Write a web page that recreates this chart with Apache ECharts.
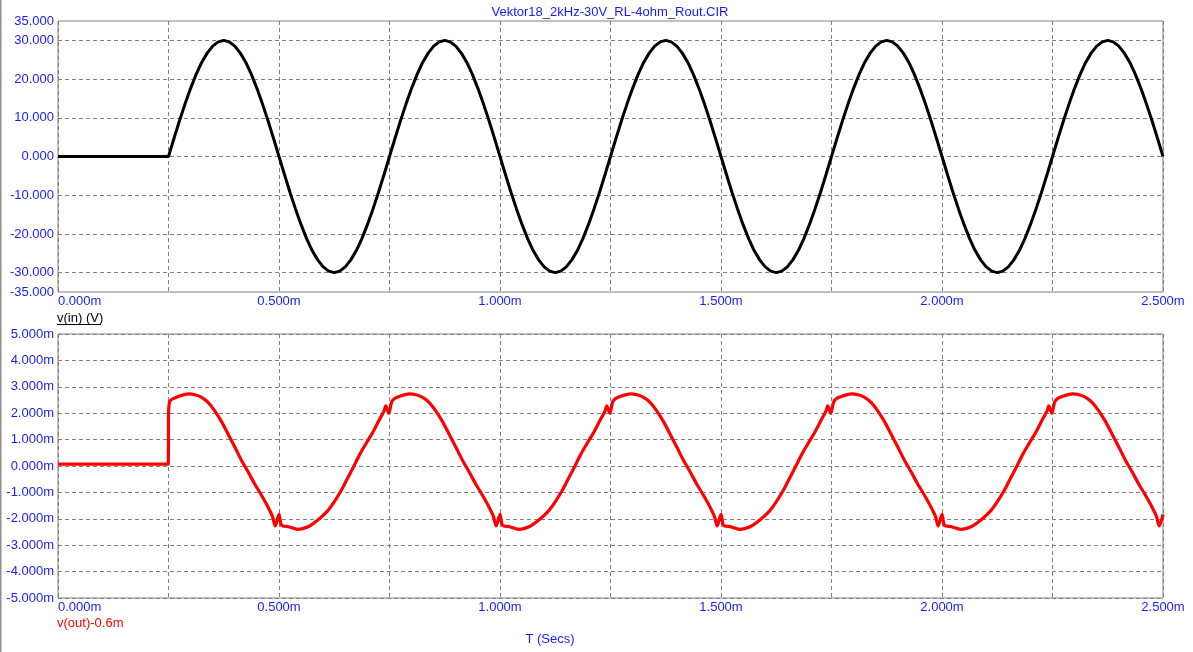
<!DOCTYPE html>
<html>
<head>
<meta charset="utf-8">
<script src="https://cdn.jsdelivr.net/npm/echarts@6/dist/echarts.min.js"></script>
<style>
html,body{margin:0;padding:0;background:#fff;}
#chart{width:1193px;height:652px;}
</style>
</head>
<body>
<div id="chart"></div>
<script>
// ---- Data (time in ms, v(in) in V, v(out) in mV) ----
const titleText = 'Vektor18_2kHz-30V_RL-4ohm_Rout.CIR';
const inStep = 0.0125; // sample spacing of v(in), ms
const vinValues = [
  0,0,0,0,0,0,0,0,0,0,0,0,0,0,0,0,0,0,0,0,
  0,4.7,9.3,13.6,17.6,21.2,24.3,26.7,28.5,29.6,30,29.6,28.5,26.7,24.3,21.2,17.6,13.6,9.3,4.7,
  0,-4.7,-9.3,-13.6,-17.6,-21.2,-24.3,-26.7,-28.5,-29.6,-30,-29.6,-28.5,-26.7,-24.3,-21.2,-17.6,-13.6,-9.3,-4.7,
  0,4.7,9.3,13.6,17.6,21.2,24.3,26.7,28.5,29.6,30,29.6,28.5,26.7,24.3,21.2,17.6,13.6,9.3,4.7,
  0,-4.7,-9.3,-13.6,-17.6,-21.2,-24.3,-26.7,-28.5,-29.6,-30,-29.6,-28.5,-26.7,-24.3,-21.2,-17.6,-13.6,-9.3,-4.7,
  0,4.7,9.3,13.6,17.6,21.2,24.3,26.7,28.5,29.6,30,29.6,28.5,26.7,24.3,21.2,17.6,13.6,9.3,4.7,
  0,-4.7,-9.3,-13.6,-17.6,-21.2,-24.3,-26.7,-28.5,-29.6,-30,-29.6,-28.5,-26.7,-24.3,-21.2,-17.6,-13.6,-9.3,-4.7,
  0,4.7,9.3,13.6,17.6,21.2,24.3,26.7,28.5,29.6,30,29.6,28.5,26.7,24.3,21.2,17.6,13.6,9.3,4.7,
  0,-4.7,-9.3,-13.6,-17.6,-21.2,-24.3,-26.7,-28.5,-29.6,-30,-29.6,-28.5,-26.7,-24.3,-21.2,-17.6,-13.6,-9.3,-4.7,
  0,4.7,9.3,13.6,17.6,21.2,24.3,26.7,28.5,29.6,30,29.6,28.5,26.7,24.3,21.2,17.6,13.6,9.3,4.7,
  0
];
const voutTimes = [
  0,0.2495,0.25,0.2515,0.254,0.262,0.275,0.295,0.310,0.325,0.340,0.355,0.370,0.385,0.400,0.415,0.430,0.445,0.460,0.475,0.485,0.4915,0.500,0.506,0.522,0.542,0.568,0.590,0.610,0.623,0.640,0.653,0.668,0.683,0.698,0.713,0.727,0.738,0.7415,
  0.7485,0.755,0.762,0.775,0.795,0.810,0.825,0.840,0.855,0.870,0.885,0.900,0.915,0.930,0.945,0.960,0.975,0.985,0.9915,1.000,1.006,1.022,1.042,1.068,1.090,1.110,1.123,1.140,1.153,1.168,1.183,1.198,1.213,1.227,1.238,1.2415,
  1.2485,1.255,1.262,1.275,1.295,1.310,1.325,1.340,1.355,1.370,1.385,1.400,1.415,1.430,1.445,1.460,1.475,1.485,1.4915,1.500,1.506,1.522,1.542,1.568,1.590,1.610,1.623,1.640,1.653,1.668,1.683,1.698,1.713,1.727,1.738,1.7415,
  1.7485,1.755,1.762,1.775,1.795,1.810,1.825,1.840,1.855,1.870,1.885,1.900,1.915,1.930,1.945,1.960,1.975,1.985,1.9915,2.000,2.006,2.022,2.042,2.068,2.090,2.110,2.123,2.140,2.153,2.168,2.183,2.198,2.213,2.227,2.238,2.2415,
  2.2485,2.255,2.262,2.275,2.295,2.310,2.325,2.340,2.355,2.370,2.385,2.400,2.415,2.430,2.445,2.460,2.475,2.485,2.4915,2.500
];
const voutValues = [
  0.07,0.07,1.95,2.35,2.48,2.56,2.65,2.73,2.70,2.60,2.40,2.08,1.68,1.20,0.72,0.22,-0.22,-0.68,-1.10,-1.55,-1.90,-2.27,-1.83,-2.25,-2.30,-2.40,-2.28,-2.02,-1.70,-1.41,-0.95,-0.53,-0.05,0.45,0.88,1.30,1.75,2.10,2.28,
  2.00,2.43,2.56,2.65,2.73,2.70,2.60,2.40,2.08,1.68,1.20,0.72,0.22,-0.22,-0.68,-1.10,-1.55,-1.90,-2.27,-1.83,-2.25,-2.30,-2.40,-2.28,-2.02,-1.70,-1.41,-0.95,-0.53,-0.05,0.45,0.88,1.30,1.75,2.10,2.28,
  2.00,2.43,2.56,2.65,2.73,2.70,2.60,2.40,2.08,1.68,1.20,0.72,0.22,-0.22,-0.68,-1.10,-1.55,-1.90,-2.27,-1.83,-2.25,-2.30,-2.40,-2.28,-2.02,-1.70,-1.41,-0.95,-0.53,-0.05,0.45,0.88,1.30,1.75,2.10,2.28,
  2.00,2.43,2.56,2.65,2.73,2.70,2.60,2.40,2.08,1.68,1.20,0.72,0.22,-0.22,-0.68,-1.10,-1.55,-1.90,-2.27,-1.83,-2.25,-2.30,-2.40,-2.28,-2.02,-1.70,-1.41,-0.95,-0.53,-0.05,0.45,0.88,1.30,1.75,2.10,2.28,
  2.00,2.43,2.56,2.65,2.73,2.70,2.60,2.40,2.08,1.68,1.20,0.72,0.22,-0.22,-0.68,-1.10,-1.55,-1.90,-2.27,-1.83
];
const topLabel = 'v(in) (V)';
const bottomLabel = 'v(out)-0.6m';
const xTitle = 'T (Secs)';

// ---- Build ----
const vinData = vinValues.map((v, i) => [i * inStep, v]);
const voutData = voutTimes.map((t, i) => [t, voutValues[i]]);

const FONT = '"Liberation Sans", Arial, sans-serif';
const FS = 13;
const BLUE = '#1a1aff';
const GRIDC = '#808080';

function xAxisCfg(gi) {
  return {
    gridIndex: gi, type: 'value', min: 0, max: 2.5, interval: 0.25,
    axisLine: {show: false}, axisTick: {show: false},
    axisLabel: {
      show: true, margin: 3, color: BLUE, fontFamily: FONT, fontSize: FS,
      showMinLabel: true, showMaxLabel: true, alignMinLabel: 'left', hideOverlap: false,
      formatter: v => (Math.abs(Math.round(v * 1000) % 500) < 1e-6) ? v.toFixed(3) + 'm' : ''
    },
    splitLine: {show: true, lineStyle: {color: GRIDC, type: [4, 3], width: 1}}
  };
}

const chart = echarts.init(document.getElementById('chart'), null, {renderer: 'canvas'});
chart.setOption({
  animation: false,
  backgroundColor: '#ffffff',
  grid: [
    {left: 58, right: 30, top: 21, height: 271, show: true, borderColor: GRIDC, borderWidth: 1, containLabel: false},
    {left: 58, right: 30, top: 334, height: 264, show: true, borderColor: GRIDC, borderWidth: 1, containLabel: false}
  ],
  xAxis: [xAxisCfg(0), xAxisCfg(1)],
  yAxis: [
    {
      gridIndex: 0, type: 'value', min: -35, max: 35, interval: 5,
      axisLine: {show: false}, axisTick: {show: false},
      axisLabel: {
        margin: 4, color: BLUE, fontFamily: FONT, fontSize: FS, showMinLabel: true, showMaxLabel: true,
        formatter: v => (Math.abs(v) === 35 || v % 10 === 0) ? v.toFixed(3) : ''
      },
      splitLine: {show: true, lineStyle: {color: ['rgba(0,0,0,0)', GRIDC], type: [4, 3], width: 1}}
    },
    {
      gridIndex: 1, type: 'value', min: -5, max: 5, interval: 1,
      axisLine: {show: false}, axisTick: {show: false},
      axisLabel: {
        margin: 4, color: BLUE, fontFamily: FONT, fontSize: FS, showMinLabel: true, showMaxLabel: true,
        formatter: v => v.toFixed(3) + 'm'
      },
      splitLine: {show: true, lineStyle: {color: GRIDC, type: [4, 3], width: 1}}
    }
  ],
  series: [
    {
      type: 'line', xAxisIndex: 0, yAxisIndex: 0, data: vinData, showSymbol: false, symbol: 'none',
      lineStyle: {color: '#000000', width: 3}, z: 5
    },
    {
      type: 'line', xAxisIndex: 1, yAxisIndex: 1, data: voutData, showSymbol: false, symbol: 'none',
      smooth: 0.3,
      lineStyle: {color: '#ff0000', width: 3.2}, z: 5
    }
  ],
  graphic: [
    {type: 'line', shape: {x1: 0.5, y1: 0, x2: 0.5, y2: 652}, style: {stroke: '#909090', lineWidth: 2}},
    {type: 'text', x: 610, y: 12, style: {text: titleText, fill: BLUE, font: FS + 'px ' + FONT, textAlign: 'center', textVerticalAlign: 'middle'}},
    {type: 'text', x: 57, y: 318, style: {text: topLabel, fill: '#000000', font: FS + 'px ' + FONT, textAlign: 'left', textVerticalAlign: 'middle'}},
    {type: 'line', shape: {x1: 57, y1: 324.5, x2: 101, y2: 324.5}, style: {stroke: '#000000', lineWidth: 1}},
    {type: 'text', x: 57, y: 623, style: {text: bottomLabel, fill: '#ff0000', font: FS + 'px ' + FONT, textAlign: 'left', textVerticalAlign: 'middle'}},
    {type: 'text', x: 550, y: 639, style: {text: xTitle, fill: BLUE, font: FS + 'px ' + FONT, textAlign: 'center', textVerticalAlign: 'middle'}}
  ]
});
</script>
</body>
</html>
